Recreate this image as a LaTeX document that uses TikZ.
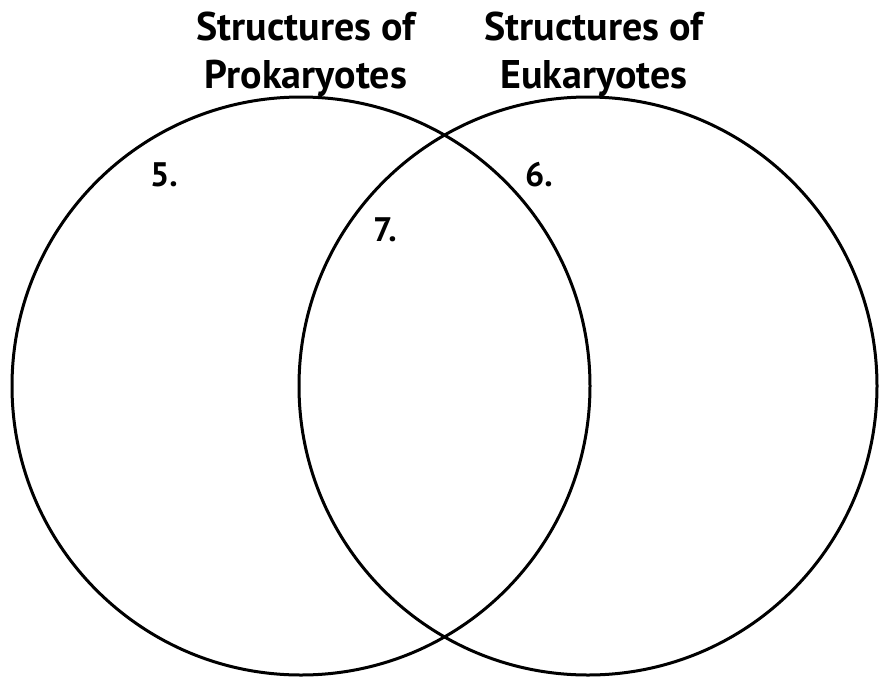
\documentclass[tikz,border=0pt]{standalone}
\usepackage{fontspec}
\setmainfont{PT Sans}
\begin{document}
\begin{tikzpicture}[x=1pt,y=-1pt,
  ring/.style={draw=black,line width=3pt},
  title/.style={font=\bfseries\fontsize{40}{48}\selectfont,align=center,inner sep=0pt},
  num/.style={font=\bfseries\fontsize{34}{34}\selectfont,inner sep=0pt,anchor=base west}]
\useasboundingbox (0,0) rectangle (884,678);
\node[ring,circle,minimum size=578pt,inner sep=0pt] (L) at (301,386) {};
\node[ring,circle,minimum size=578pt,inner sep=0pt] (R) at (588,386) {};
\node[title] (tl) at (306,54) {Structures of\\Prokaryotes};
\node[title] (tr) at (594,54) {Structures of\\Eukaryotes};
\node[num] (n5) at (150,186) {5.};
\node[num] (n6) at (525,186) {6.};
\node[num] (n7) at (373,241) {7.};
\end{tikzpicture}
\end{document}
